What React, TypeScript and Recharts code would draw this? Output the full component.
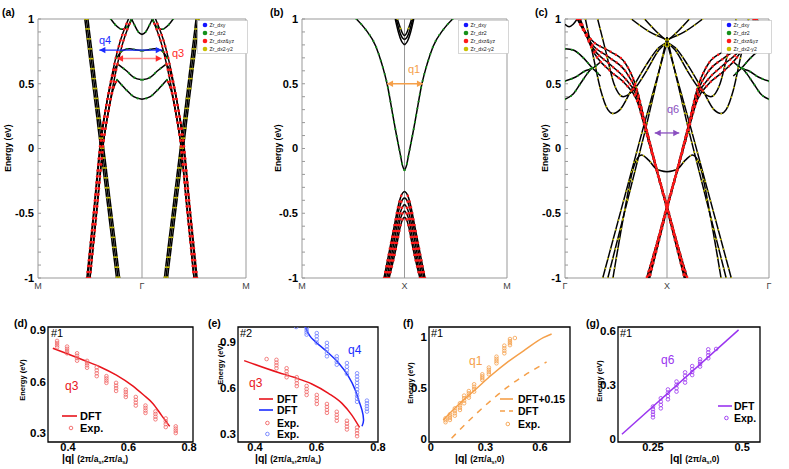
import React from 'react';
import { ComposedChart, Line, Scatter, XAxis, YAxis, ReferenceLine, ReferenceArea, Legend } from 'recharts';

const FONT = '"Liberation Sans", Arial, Helvetica, sans-serif';

// ---------------- top panels: tick labels ----------------
const topYTicks = [-1, -0.9, -0.8, -0.7, -0.6, -0.5, -0.4, -0.3, -0.2, -0.1, 0, 0.1, 0.2, 0.3, 0.4, 0.5, 0.6, 0.7, 0.8, 0.9, 1];
const aPath = ['M', 'Γ', 'M'];
const bPath = ['M', 'X', 'M'];
const cPath = ['Γ', 'X', 'Γ'];
const orbitals = ['Zr_dxy', 'Zr_dz2', 'Zr_dxz&yz', 'Zr_dx2-y2'];
const orbitalColors = ['#1414ff', '#16901a', '#ff1a1a', '#c8c000'];

// ---------------- panel (a): M–Γ–M, left half (right half = mirror axis) ----------------
const aOut1 = [[-0.55, 1], [-0.245, -1]];
const aOut2 = [[-0.535, 1], [-0.23, -1]];
const aOut3 = [[-0.52, 1], [-0.215, -1]];
const aR1a = [[-0.52, -1], [-0.45, -0.4], [-0.39, 0.07], [-0.35, 0.3], [-0.3, 0.5], [-0.26, 0.62], [-0.23, 0.65]];
const aR1b = [[-0.23, 0.65], [-0.15, 0.6], [-0.08, 0.55], [0, 0.53]];
const aR2a = [[-0.5, -1], [-0.43, -0.42], [-0.37, 0.05], [-0.33, 0.25], [-0.28, 0.45], [-0.24, 0.53]];
const aR2b = [[-0.24, 0.53], [-0.16, 0.46], [-0.08, 0.4], [0, 0.38]];
const aR3 = [[-0.53, -1], [-0.46, -0.45], [-0.4, 0.05], [-0.34, 0.35], [-0.28, 0.6], [-0.22, 0.8], [-0.13, 1]];
const aR4 = [[-0.5, -1], [-0.43, -0.45], [-0.37, 0.05], [-0.31, 0.35], [-0.25, 0.6], [-0.19, 0.8], [-0.1, 1]];
const aG3 = [[-0.24, 0.7], [-0.19, 0.755], [-0.12, 0.77], [-0.05, 0.76], [0, 0.755]];
const aG4 = [[-0.1, 1], [-0.07, 0.95], [-0.035, 0.9], [0, 0.88]];
const aG5 = [[-0.3, 1], [-0.25, 0.95], [-0.19, 0.92], [-0.14, 0.94], [-0.1, 1]];
const aQ4 = [[-0.41, 0.76], [0.19, 0.76]];
const aQ3 = [[-0.24, 0.695], [0.19, 0.695]];

// ---------------- panel (b): M–X–M ----------------
const bC = [[-0.47, 1], [-0.38, 0.92], [-0.28, 0.79], [-0.22, 0.65], [-0.17, 0.5], [-0.11, 0.24], [-0.08, 0.11], [-0.04, -0.05], [-0.02, -0.13], [0, -0.17]];
const bU1 = [[-0.09, 1], [-0.06, 0.9], [-0.03, 0.83], [0, 0.8]];
const bU2 = [[-0.08, 1], [-0.05, 0.91], [-0.025, 0.86], [0, 0.84]];
const bU3 = [[-0.07, 1], [-0.04, 0.93], [-0.02, 0.89], [0, 0.87]];
const bV1 = [[-0.2, -1], [-0.15, -0.8], [-0.1, -0.6], [-0.06, -0.44], [-0.03, -0.36], [0, -0.33]];
const bV2 = [[-0.19, -1], [-0.14, -0.82], [-0.1, -0.65], [-0.06, -0.49], [-0.03, -0.41], [0, -0.38]];
const bV3 = [[-0.175, -1], [-0.13, -0.84], [-0.09, -0.67], [-0.05, -0.52], [-0.025, -0.46], [0, -0.43]];
const bV4 = [[-0.16, -1], [-0.12, -0.86], [-0.08, -0.7], [-0.05, -0.57], [-0.025, -0.51], [0, -0.48]];
const bV5 = [[-0.15, -1], [-0.11, -0.87], [-0.07, -0.72], [-0.04, -0.6], [-0.02, -0.55], [0, -0.53]];
const bQ1 = [[-0.17, 0.5], [0.18, 0.5]];

// ---------------- panel (c): Γ–X–Γ ----------------
const cX1 = [[-0.88, 1], [-0.73, 0.83], [-0.56, 0.75], [-0.41, 0.66], [-0.3, 0.47], [-0.2, 0.15], [-0.1, -0.16], [0, -0.45], [0.1, -0.74], [0.19, -1]];
const cX2 = [[-0.88, 1], [-0.73, 0.8], [-0.56, 0.7], [-0.41, 0.6], [-0.3, 0.44], [-0.2, 0.14], [-0.1, -0.16], [0, -0.44], [0.1, -0.73], [0.2, -1]];
const cX3 = [[-0.86, 1], [-0.73, 0.78], [-0.56, 0.65], [-0.41, 0.54], [-0.3, 0.41], [-0.2, 0.12], [-0.1, -0.17], [0, -0.46], [0.1, -0.75], [0.18, -1]];
const cX4 = [[-0.85, 1], [-0.73, 0.76], [-0.56, 0.6], [-0.41, 0.5], [-0.3, 0.38], [-0.2, 0.11], [-0.1, -0.18], [0, -0.47], [0.09, -0.75], [0.17, -1]];
const cL1 = [[-0.63, -1], [-0.24, 0.14], [0, 0.82]];
const cL2 = [[-0.58, -1], [-0.21, 0.15], [0, 0.86]];
const cM = [[-0.53, -1], [-0.42, -0.5], [-0.33, -0.15], [-0.25, -0.05], [-0.18, -0.09], [-0.1, -0.16], [0, -0.18]];
const cW1 = [[-0.8, 1], [-0.72, 0.7], [-0.65, 0.45], [-0.58, 0.3], [-0.53, 0.27], [-0.46, 0.3], [-0.35, 0.45], [-0.2, 0.65], [-0.08, 0.78], [0, 0.82]];
const cW2 = [[-0.68, 1], [-0.6, 0.75], [-0.52, 0.5], [-0.43, 0.4], [-0.33, 0.45], [-0.2, 0.6], [-0.08, 0.76], [0, 0.82]];
const cV1 = [[-0.22, 1], [-0.1, 0.9], [0, 0.83]];
const cV2 = [[-0.35, 1], [-0.17, 0.9], [0, 0.84]];
const cG1 = [[-1, 0.77], [-0.92, 0.76], [-0.82, 0.7], [-0.73, 0.62], [-0.65, 0.56]];
const cG2 = [[-1, 0.52], [-0.9, 0.55], [-0.8, 0.6], [-0.73, 0.62], [-0.65, 0.67]];
const cG3 = [[-1, 0.38], [-0.92, 0.42], [-0.85, 0.5], [-0.78, 0.58], [-0.73, 0.63]];
const cTop = [[-1, 0.96], [-0.96, 0.94], [-0.92, 0.96], [-0.88, 1]];
const cQ6 = [[-0.12, 0.12], [0.12, 0.12]];

// ---------------- panel (d) ----------------
const dDft = [[0.35, 0.793], [0.45, 0.725], [0.505, 0.686], [0.56, 0.637], [0.615, 0.573], [0.648, 0.524], [0.681, 0.471], [0.709, 0.403], [0.736, 0.339]];
const dExpQ = [0.364, 0.397, 0.43, 0.463, 0.495, 0.527, 0.559, 0.591, 0.624, 0.656, 0.689, 0.723, 0.756];
const dExpE = [
  [0.836, 0.824, 0.811, 0.799], [0.803, 0.79, 0.777, 0.764], [0.764, 0.75, 0.736, 0.721], [0.72, 0.707, 0.694, 0.68],
  [0.682, 0.665, 0.648, 0.631], [0.631, 0.618, 0.605, 0.592], [0.592, 0.576, 0.561, 0.545], [0.553, 0.539, 0.524, 0.51],
  [0.51, 0.493, 0.477, 0.46], [0.46, 0.446, 0.431, 0.417], [0.426, 0.411, 0.395, 0.38], [0.385, 0.368, 0.352, 0.335],
  [0.339, 0.326, 0.313, 0.3],
];

// ---------------- panel (e) ----------------
const eDftRed = [[0.365, 0.78], [0.476, 0.702], [0.53, 0.669], [0.585, 0.627], [0.639, 0.566], [0.683, 0.5], [0.715, 0.423], [0.74, 0.342]];
const eDftBlue = [[0.563, 1.005], [0.579, 0.94], [0.607, 0.885], [0.639, 0.83], [0.672, 0.764], [0.704, 0.676], [0.726, 0.588], [0.737, 0.522], [0.748, 0.456], [0.753, 0.39], [0.748, 0.35]];
const eExpRedQ = [0.438, 0.47, 0.503, 0.536, 0.568, 0.601, 0.634, 0.666, 0.699, 0.732];
const eExpRedE = [
  [0.79], [0.785, 0.767, 0.749, 0.73], [0.73, 0.71, 0.69, 0.671], [0.671, 0.652, 0.632, 0.613], [0.614, 0.594, 0.575, 0.555],
  [0.555, 0.535, 0.516, 0.496], [0.496, 0.477, 0.457, 0.438], [0.445, 0.425, 0.406, 0.386], [0.386, 0.367, 0.348, 0.329],
  [0.342, 0.323, 0.304, 0.285],
];
const eExpBlueQ = [0.534, 0.568, 0.601, 0.634, 0.666, 0.699, 0.732, 0.764];
const eExpBlueE = [
  [1.0], [0.995, 0.98, 0.965, 0.95], [0.96, 0.94, 0.918, 0.896], [0.896, 0.874, 0.852, 0.83, 0.808], [0.808, 0.79, 0.772, 0.753],
  [0.764, 0.74, 0.717, 0.693], [0.697, 0.676, 0.655, 0.634, 0.613, 0.592, 0.571, 0.55, 0.53, 0.51], [0.518, 0.5, 0.482, 0.464, 0.446],
];

// ---------------- panel (f) ----------------
const fDftShift = [[0.068, 0.186], [0.15, 0.333], [0.242, 0.48], [0.334, 0.627], [0.425, 0.758], [0.517, 0.873], [0.618, 0.993], [0.664, 1.03]];
const fDft = [[0.114, 0.007], [0.242, 0.235], [0.334, 0.382], [0.425, 0.513], [0.517, 0.627], [0.609, 0.725], [0.636, 0.756]];
const fExpQ = [0.081, 0.105, 0.132, 0.16, 0.183, 0.209, 0.238, 0.283, 0.319, 0.361, 0.404, 0.435, 0.462];
const fExpE = [
  [0.203, 0.184, 0.164], [0.242, 0.223, 0.205, 0.186], [0.3, 0.276, 0.252, 0.228], [0.35, 0.328, 0.306, 0.284],
  [0.425, 0.4, 0.375, 0.35], [0.47, 0.448, 0.427, 0.405], [0.536, 0.512, 0.488, 0.464], [0.634, 0.615, 0.597, 0.578],
  [0.7, 0.678, 0.656, 0.634], [0.807, 0.785, 0.764, 0.742], [0.915, 0.89, 0.865, 0.84], [0.98, 0.96, 0.94, 0.92], [0.99],
];

// ---------------- panel (g) ----------------
const gDft = [[0.163, 0.026], [0.49, 0.606]];
const gExpQ = [0.25, 0.272, 0.292, 0.316, 0.34, 0.36, 0.382, 0.405, 0.427];
const gExpE = [
  [0.18, 0.165, 0.15, 0.135, 0.12], [0.226, 0.207, 0.189, 0.17], [0.275, 0.257, 0.238, 0.22], [0.319, 0.3, 0.282, 0.263],
  [0.37, 0.351, 0.332, 0.313], [0.405, 0.388, 0.372, 0.355], [0.443, 0.429, 0.416, 0.402], [0.498, 0.481, 0.465, 0.448], [0.5],
];

// ---------------- helpers ----------------
const toPts = (a: number[][]) => a.map(([x, y]) => ({ x, y }));
const clusters = (q: number[], e: number[][]) => q.flatMap((qq, i) => e[i].map((v) => ({ x: qq, y: v })));

const DOT: Record<string, { c: string; w: number; g: string }> = {
  y: { c: '#c8c000', w: 1.8, g: '0 10' },
  r: { c: '#ff1a1a', w: 2.5, g: '0 6' },
  g: { c: '#16901a', w: 2.1, g: '0 7' },
};

type Band = { d: number[][]; dot?: 'y' | 'r' | 'g'; t?: 'linear' | 'monotone' };

function renderBands(bands: Band[], id: string) {
  const black: React.ReactNode[] = [];
  const dots: React.ReactNode[] = [];
  bands.forEach((b, i) => {
    const data = toPts(b.d);
    (['n', 'm'] as const).forEach((ax) => {
      black.push(
        <Line key={`${id}k${i}${ax}`} xAxisId={ax} data={data} dataKey="y" type={b.t ?? 'monotone'} stroke="#000"
          strokeWidth={1.5} dot={false} activeDot={false} isAnimationActive={false} legendType="none" />
      );
      if (b.dot) {
        const s = DOT[b.dot];
        dots.push(
          <Line key={`${id}d${i}${ax}`} xAxisId={ax} data={data} dataKey="y" type={b.t ?? 'monotone'} stroke={s.c}
            strokeWidth={s.w} strokeDasharray={s.g} strokeLinecap="round" dot={false} activeDot={false}
            isAnimationActive={false} legendType="none" />
        );
      }
    });
  });
  return [...black, ...dots];
}

function arrowLine(d: number[][], headColor: string, lineColor: string, key: string) {
  const head = (p: any) => {
    const { cx, cy, index } = p;
    const dir = index === 0 ? 1 : -1;
    return <path key={`${key}h${index}`} d={`M${cx},${cy}L${cx + dir * 6},${cy - 3.2}L${cx + dir * 6},${cy + 3.2}Z`} fill={headColor} />;
  };
  return (
    <Line key={key} xAxisId="n" data={toPts(d)} dataKey="y" type="linear" stroke={lineColor} strokeWidth={1.3}
      dot={head} activeDot={false} isAnimationActive={false} legendType="none" />
  );
}

const fmtMajor = (v: number) => (Math.abs(v * 2 - Math.round(v * 2)) < 1e-6 ? String(v) : '');

const OrbitalLegend = () => (
  <svg width={51} height={34} style={{ display: 'block' }}>
    <rect x={0.5} y={0.5} width={50} height={33} fill="#fff" stroke="#bbb" strokeWidth={0.6} />
    {orbitals.map((o, i) => (
      <g key={o}>
        <circle cx={8} cy={5 + i * 8} r={2.3} fill={orbitalColors[i]} />
        <text x={12.5} y={7 + i * 8} fontSize={5.2} fontFamily={FONT} fill="#222">{o}</text>
      </g>
    ))}
  </svg>
);

function BandPanel({ plotX, plotW, bands, arrows, names, legendLeft, id }: {
  plotX: number; plotW: number; bands: Band[]; arrows: React.ReactNode[]; names: string[]; legendLeft: number; id: string;
}) {
  return (
    <div style={{ position: 'absolute', left: plotX - 30, top: 14 }}>
      <ComposedChart width={plotW + 35} height={284} margin={{ top: 5, right: 5, bottom: 0, left: 0 }}>
        <XAxis xAxisId="n" type="number" dataKey="x" domain={[-1, 1]} ticks={[-1, 0, 1]} interval={0} allowDataOverflow
          height={20} axisLine={false} tickLine={false} tickSize={0} tickMargin={5}
          tickFormatter={(v: number) => names[Math.round(v) + 1]}
          tick={{ fontSize: 9, fill: '#444', fontFamily: FONT }} />
        <XAxis xAxisId="m" type="number" dataKey="x" domain={[-1, 1]} reversed hide height={0} allowDataOverflow />
        <YAxis type="number" dataKey="y" domain={[-1, 1]} ticks={topYTicks} interval={0} allowDataOverflow width={30}
          axisLine={false} tickLine={{ stroke: '#999' }} tickSize={-3} tickMargin={7} tickFormatter={fmtMajor}
          tick={{ fontSize: 11, fontWeight: 'bold', fill: '#000', fontFamily: FONT }} />
        <ReferenceArea xAxisId="n" x1={-1} x2={1} y1={-1} y2={1} fill="none" stroke="#999" strokeWidth={1} />
        <ReferenceLine xAxisId="n" x={0} stroke="#999" strokeWidth={1} />
        {renderBands(bands, id)}
        {arrows}
        <Legend content={<OrbitalLegend />} layout="vertical" align="center" verticalAlign="middle"
          wrapperStyle={{ left: legendLeft, top: 6, width: 51, height: 34 }} />
      </ComposedChart>
    </div>
  );
}

type LegItem = { kind: 'line' | 'dash' | 'circle'; color: string; label: string; y: number };

const SmallLegend = ({ items, w, h, x0, x1, tx, fs }: { items: LegItem[]; w: number; h: number; x0: number; x1: number; tx: number; fs: number }) => (
  <svg width={w} height={h} style={{ display: 'block' }}>
    {items.map((it, i) => (
      <g key={i}>
        {it.kind === 'circle' ? (
          <circle cx={(x0 + x1) / 2 + (x1 - x0) * 0.1} cy={it.y} r={1.8} fill="none" stroke={it.color} strokeWidth={0.9} />
        ) : (
          <line x1={x0} x2={x1} y1={it.y} y2={it.y} stroke={it.color} strokeWidth={1.6}
            strokeDasharray={it.kind === 'dash' ? '5 4' : undefined} />
        )}
        <text x={tx} y={it.y + fs * 0.36} fontSize={fs} fontWeight="bold" fontFamily={FONT} fill="#000">{it.label}</text>
      </g>
    ))}
  </svg>
);

function ExpPanel({ plotX, plotW, xDomain, yDomain, xTicks, yTicks, children }: {
  plotX: number; plotW: number; xDomain: number[]; yDomain: number[]; xTicks: number[]; yTicks: number[]; children: React.ReactNode;
}) {
  return (
    <div style={{ position: 'absolute', left: plotX - 30, top: 322 }}>
      <ComposedChart width={plotW + 42} height={138} margin={{ top: 5, right: 12, bottom: 0, left: 0 }}>
        <XAxis type="number" dataKey="x" domain={xDomain} ticks={xTicks} interval={0} allowDataOverflow height={18}
          axisLine={false} tickLine={false} tickSize={0} tickMargin={1} tickFormatter={(v: number) => String(v)}
          tick={{ fontSize: 11, fontWeight: 'bold', fill: '#000', fontFamily: FONT }} />
        <YAxis type="number" dataKey="y" domain={yDomain} ticks={yTicks} interval={0} allowDataOverflow width={30}
          axisLine={false} tickLine={false} tickSize={0} tickMargin={2} tickFormatter={(v: number) => String(v)}
          tick={{ fontSize: 11.5, fontWeight: 'bold', fill: '#000', fontFamily: FONT }} />
        <ReferenceArea x1={xDomain[0]} x2={xDomain[1]} y1={yDomain[0]} y2={yDomain[1]} fill="none" stroke="#000" strokeWidth={1.3} />
        {children}
      </ComposedChart>
    </div>
  );
}

const openCircle = (color: string) => (p: any) => (
  <circle cx={p.cx} cy={p.cy} r={1.8} fill="none" stroke={color} strokeWidth={0.8} />
);

const RED = '#e8141c';
const RED_EXP = '#f06464';
const BLUE = '#1a2cff';
const BLUE_EXP = '#6f7fff';
const ORANGE = '#f5a04a';
const PURPLE = '#9a35f0';

const QLabel = ({ x, y, t, c, fs = 11 }: { x: number; y: number; t: string; c: string; fs?: number }) => (
  <text x={x} y={y} fontSize={fs} fill={c} fontFamily={FONT}>{t}</text>
);

const QTitle = ({ x, y, tail }: { x: number; y: number; tail: 'two' | 'one' }) => (
  <text x={x} y={y} fontWeight="bold" fontFamily={FONT} fill="#000">
    <tspan fontSize={10.5}>|q| </tspan>
    <tspan fontSize={8.5}>(2π/a</tspan>
    <tspan fontSize={5.5} dy={2}>s</tspan>
    {tail === 'two' ? (
      <>
        <tspan fontSize={8.5} dy={-2}>,2π/a</tspan>
        <tspan fontSize={5.5} dy={2}>s</tspan>
        <tspan fontSize={8.5} dy={-2}>)</tspan>
      </>
    ) : (
      <tspan fontSize={8.5} dy={-2}>,0)</tspan>
    )}
  </text>
);

const EnergyLabel = ({ x, y, fs }: { x: number; y: number; fs: number }) => (
  <text transform={`translate(${x},${y}) rotate(-90)`} textAnchor="middle" dy="0.35em" fontSize={fs} fontWeight="bold" fontFamily={FONT} fill="#000">
    Energy (eV)
  </text>
);

export default function App() {
  const aBands: Band[] = [
    { d: aOut1, dot: 'y', t: 'linear' }, { d: aOut2, dot: 'y', t: 'linear' }, { d: aOut3, dot: 'y', t: 'linear' },
    { d: aR1a, dot: 'r' }, { d: aR1b, dot: 'g' }, { d: aR2a, dot: 'r' }, { d: aR2b, dot: 'g' },
    { d: aR3, dot: 'r' }, { d: aR4, dot: 'r' }, { d: aG3, dot: 'g' }, { d: aG4, dot: 'g' }, { d: aG5, dot: 'g' },
  ];
  const bBands: Band[] = [
    { d: bC, dot: 'g' }, { d: bU1 }, { d: bU2 }, { d: bU3, dot: 'y' },
    { d: bV1, dot: 'r' }, { d: bV2, dot: 'r' }, { d: bV3, dot: 'r' }, { d: bV4, dot: 'r' }, { d: bV5, dot: 'r' },
  ];
  const cBands: Band[] = [
    { d: cL1, dot: 'y', t: 'linear' }, { d: cL2, dot: 'y', t: 'linear' }, { d: cM, dot: 'y' },
    { d: cW1, dot: 'y' }, { d: cW2, dot: 'y' }, { d: cV1, dot: 'y' }, { d: cV2, dot: 'y' },
    { d: cG1, dot: 'g' }, { d: cG2, dot: 'g' }, { d: cG3, dot: 'g' }, { d: cTop },
    { d: cX1, dot: 'r' }, { d: cX2, dot: 'r' }, { d: cX3, dot: 'r' }, { d: cX4, dot: 'r' },
  ];

  return (
    <div style={{ position: 'absolute', left: 0, top: 0, width: 789, height: 469, background: '#fff', fontFamily: FONT }}>
      <BandPanel id="a" plotX={38} plotW={208} bands={aBands} names={aPath} legendLeft={189}
        arrows={[arrowLine(aQ4, BLUE, BLUE, 'aq4'), arrowLine(aQ3, '#ff2a2a', '#ff8a8a', 'aq3')]} />
      <BandPanel id="b" plotX={302} plotW={205} bands={bBands} names={bPath} legendLeft={186}
        arrows={[arrowLine(bQ1, ORANGE, ORANGE, 'bq1')]} />
      <BandPanel id="c" plotX={565} plotW={204} bands={cBands} names={cPath} legendLeft={186}
        arrows={[arrowLine(cQ6, '#8a4fc0', '#8a4fc0', 'cq6')]} />

      <ExpPanel plotX={48} plotW={145} xDomain={[0.334, 0.813]} yDomain={[0.248, 0.917]} xTicks={[0.4, 0.6, 0.8]} yTicks={[0.3, 0.6, 0.9]}>
        <Line data={toPts(dDft)} dataKey="y" type="monotone" stroke={RED} strokeWidth={1.5} dot={false} activeDot={false} isAnimationActive={false} />
        <Scatter data={clusters(dExpQ, dExpE)} shape={openCircle(RED_EXP)} isAnimationActive={false} />
        <Legend layout="vertical" align="center" verticalAlign="middle" wrapperStyle={{ left: 40, top: 83, width: 50, height: 32 }}
          content={<SmallLegend w={50} h={32} x0={4} x1={19} tx={22} fs={11} items={[
            { kind: 'line', color: RED, label: 'DFT', y: 11 },
            { kind: 'circle', color: RED_EXP, label: 'Exp.', y: 23 },
          ]} />} />
      </ExpPanel>

      <ExpPanel plotX={238} plotW={140} xDomain={[0.345, 0.8]} yDomain={[0.247, 1.0]} xTicks={[0.4, 0.6, 0.8]} yTicks={[0.3, 0.6, 0.9]}>
        <Line data={toPts(eDftRed)} dataKey="y" type="monotone" stroke={RED} strokeWidth={1.5} dot={false} activeDot={false} isAnimationActive={false} />
        <Line data={toPts(eDftBlue)} dataKey="y" type="natural" stroke={BLUE} strokeWidth={1.5} dot={false} activeDot={false} isAnimationActive={false} />
        <Scatter data={clusters(eExpRedQ, eExpRedE)} shape={openCircle(RED_EXP)} isAnimationActive={false} />
        <Scatter data={clusters(eExpBlueQ, eExpBlueE)} shape={openCircle(BLUE_EXP)} isAnimationActive={false} />
        <Legend layout="vertical" align="center" verticalAlign="middle" wrapperStyle={{ left: 47, top: 70, width: 50, height: 52 }}
          content={<SmallLegend w={50} h={52} x0={4} x1={18} tx={22} fs={10.5} items={[
            { kind: 'line', color: RED, label: 'DFT', y: 7 },
            { kind: 'line', color: BLUE, label: 'DFT', y: 18 },
            { kind: 'circle', color: RED_EXP, label: 'Exp.', y: 31 },
            { kind: 'circle', color: BLUE_EXP, label: 'Exp.', y: 42 },
          ]} />} />
      </ExpPanel>

      <ExpPanel plotX={429} plotW={141} xDomain={[-0.01, 0.765]} yDomain={[-0.03, 1.098]} xTicks={[0, 0.3, 0.6]} yTicks={[0, 0.5, 1]}>
        <Line data={toPts(fDftShift)} dataKey="y" type="monotone" stroke={ORANGE} strokeWidth={1.5} dot={false} activeDot={false} isAnimationActive={false} />
        <Line data={toPts(fDft)} dataKey="y" type="monotone" stroke={ORANGE} strokeWidth={1.5} strokeDasharray="6 6" dot={false} activeDot={false} isAnimationActive={false} />
        <Scatter data={clusters(fExpQ, fExpE)} shape={openCircle(ORANGE)} isAnimationActive={false} />
        <Legend layout="vertical" align="center" verticalAlign="middle" wrapperStyle={{ left: 98, top: 70, width: 74, height: 42 }}
          content={<SmallLegend w={74} h={42} x0={3} x1={16} tx={21} fs={10.5} items={[
            { kind: 'line', color: ORANGE, label: 'DFT+0.15', y: 7 },
            { kind: 'dash', color: ORANGE, label: 'DFT', y: 19 },
            { kind: 'circle', color: ORANGE, label: 'Exp.', y: 32 },
          ]} />} />
      </ExpPanel>

      <ExpPanel plotX={618} plotW={142} xDomain={[0.152, 0.55]} yDomain={[-0.017, 0.622]} xTicks={[0.25, 0.5]} yTicks={[0, 0.3, 0.6]}>
        <Line data={toPts(gDft)} dataKey="y" type="linear" stroke={PURPLE} strokeWidth={1.5} dot={false} activeDot={false} isAnimationActive={false} />
        <Scatter data={clusters(gExpQ, gExpE)} shape={openCircle(PURPLE)} isAnimationActive={false} />
        <Legend layout="vertical" align="center" verticalAlign="middle" wrapperStyle={{ left: 126, top: 77, width: 46, height: 30 }}
          content={<SmallLegend w={46} h={30} x0={4} x1={18} tx={20} fs={10.5} items={[
            { kind: 'line', color: PURPLE, label: 'DFT', y: 7 },
            { kind: 'circle', color: PURPLE, label: 'Exp.', y: 19 },
          ]} />} />
      </ExpPanel>

      <svg width={789} height={469} style={{ position: 'absolute', left: 0, top: 0, pointerEvents: 'none' }}>
        <g fontFamily={FONT} fontWeight="bold" fontSize={10.5} fill="#000">
          <text x={2} y={16}>(a)</text>
          <text x={270} y={16}>(b)</text>
          <text x={535} y={16}>(c)</text>
          <text x={14} y={327}>(d)</text>
          <text x={208} y={327}>(e)</text>
          <text x={403} y={327}>(f)</text>
          <text x={586} y={327}>(g)</text>
        </g>
        <EnergyLabel x={8} y={148} fs={8.5} />
        <EnergyLabel x={278} y={148} fs={8.5} />
        <EnergyLabel x={545} y={148} fs={8.5} />
        <EnergyLabel x={22} y={380} fs={7.5} />
        <EnergyLabel x={220} y={364} fs={7.5} />
        <EnergyLabel x={410} y={383} fs={7.5} />
        <EnergyLabel x={599} y={381} fs={7.5} />

        <QLabel x={99} y={44} t="q4" c={BLUE} fs={11} />
        <QLabel x={172} y={57} t="q3" c="#ff2a2a" fs={11} />
        <QLabel x={408} y={73} t="q1" c={ORANGE} fs={11} />
        <QLabel x={667} y={113} t="q6" c="#8a4fc0" fs={11} />
        <QLabel x={65} y={390} t="q3" c={RED} fs={12} />
        <QLabel x={249} y={387} t="q3" c={RED} fs={12} />
        <QLabel x={348} y={354} t="q4" c={BLUE} fs={12} />
        <QLabel x={469} y={365} t="q1" c={ORANGE} fs={12} />
        <QLabel x={661} y={364} t="q6" c={PURPLE} fs={12} />

        <QLabel x={51} y={337} t="#1" c="#000" fs={11} />
        <QLabel x={240} y={337} t="#2" c="#000" fs={11} />
        <QLabel x={431} y={337} t="#1" c="#000" fs={11} />
        <QLabel x={620} y={337} t="#1" c="#000" fs={11} />

        <QTitle x={62} y={462} tail="two" />
        <QTitle x={255} y={462} tail="two" />
        <QTitle x={455} y={462} tail="one" />
        <QTitle x={670} y={462} tail="one" />
      </svg>
    </div>
  );
}
